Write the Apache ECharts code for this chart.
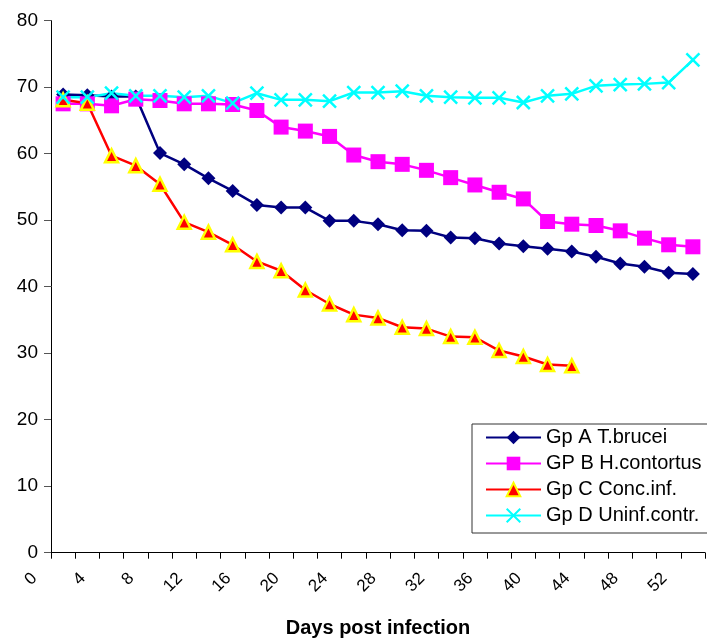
<!DOCTYPE html>
<html>
<head>
<meta charset="utf-8">
<script src="https://cdn.jsdelivr.net/npm/echarts@6/dist/echarts.min.js"></script>
<style>
  html, body { margin: 0; padding: 0; background: #fff; }
</style>
</head>
<body>
<div id="main" style="width: 707px;height:641px;"></div>
<script type="text/javascript">
    // days post infection (every 2 days)
    var days = ['0', '2', '4', '6', '8', '10', '12', '14', '16', '18', '20', '22', '24', '26',
        '28', '30', '32', '34', '36', '38', '40', '42', '44', '46', '48', '50', '52'];

    var gpA = [68.9, 68.8, 68.6, 68.6, 60.1, 58.4, 56.3, 54.4, 52.3, 51.9, 51.9, 49.9, 49.9, 49.4,
        48.5, 48.4, 47.4, 47.3, 46.5, 46.1, 45.7, 45.3, 44.5, 43.5, 43.0, 42.1, 41.9];
    var gpB = [67.5, 67.5, 67.2, 68.2, 68.0, 67.5, 67.5, 67.4, 66.5, 64.0, 63.4, 62.6, 59.8, 58.8,
        58.4, 57.5, 56.4, 55.3, 54.2, 53.2, 49.8, 49.4, 49.2, 48.4, 47.3, 46.3, 46.0];
    var gpC = [68.1, 67.6, 59.7, 58.2, 55.4, 49.7, 48.2, 46.3, 43.8, 42.4, 39.5, 37.4, 35.8, 35.3,
        33.9, 33.7, 32.5, 32.4, 30.4, 29.5, 28.3, 28.1, null, null, null, null, null];
    var gpD = [68.5, 68.5, 69.1, 68.7, 68.7, 68.5, 68.7, 67.6, 69.1, 68.1, 68.1, 67.9, 69.2, 69.2,
        69.4, 68.7, 68.5, 68.4, 68.4, 67.7, 68.7, 69.0, 70.2, 70.4, 70.5, 70.7, 74.1];

    var seriesNames = ['Gp A T.brucei', 'GP B H.contortus', 'Gp C Conc.inf.', 'Gp D Uninf.contr.'];

    var font = 'Liberation Sans, Arial, sans-serif';
    var myChart = echarts.init(document.getElementById('main'));

    var option = {
        animation: false,
        backgroundColor: '#fff',
        grid: {
            left: 51,
            right: 2,
            top: 20.7,
            bottom: 88.3,
            outerBoundsMode: 'none'
        },
        legend: {
            orient: 'vertical',
            left: 472,
            top: 424,
            padding: [3.5, 60, 7.5, 13],
            itemWidth: 55,
            itemHeight: 17,
            itemGap: 6,
            borderColor: '#333',
            borderWidth: 1,
            backgroundColor: '#fff',
            textStyle: {
                fontFamily: font,
                fontSize: 20,
                lineHeight: 20,
                color: '#000'
            },
            data: seriesNames
        },
        xAxis: {
            type: 'category',
            data: days,
            boundaryGap: true,
            name: 'Days post infection',
            nameLocation: 'middle',
            nameGap: 66,
            nameTextStyle: {
                fontFamily: font,
                fontSize: 20,
                fontWeight: 'bold',
                color: '#000'
            },
            axisLine: {lineStyle: {color: '#000', width: 1}},
            axisTick: {show: true, interval: 0, length: 6, lineStyle: {color: '#000'}},
            axisLabel: {
                interval: 1,
                rotate: 45,
                margin: 6.5,
                verticalAlign: 'bottom',
                padding: [0, 32, 0, 0],
                fontFamily: font,
                fontSize: 17,
                color: '#000'
            },
            splitLine: {show: false}
        },
        yAxis: {
            type: 'value',
            min: 0,
            max: 80,
            interval: 10,
            axisLine: {show: true, lineStyle: {color: '#000', width: 1}},
            axisTick: {show: true, length: 7, lineStyle: {color: '#555'}},
            axisLabel: {
                margin: 13,
                fontFamily: font,
                fontSize: 19,
                color: '#000'
            },
            splitLine: {show: false}
        },
        series: [
            {
                name: seriesNames[0],
                type: 'line',
                data: gpA,
                symbol: 'diamond',
                symbolSize: 14,
                lineStyle: {color: '#000080', width: 2.5},
                itemStyle: {color: '#000080'}
            },
            {
                name: seriesNames[1],
                type: 'line',
                data: gpB,
                symbol: 'rect',
                symbolSize: 15,
                lineStyle: {color: '#ff00ff', width: 2.5},
                itemStyle: {color: '#ff00ff'}
            },
            {
                name: seriesNames[2],
                type: 'line',
                data: gpC,
                symbol: 'triangle',
                symbolSize: 13,
                lineStyle: {color: '#ff0000', width: 2.5},
                itemStyle: {color: '#ff0000', borderColor: '#ffff00', borderWidth: 2.5}
            },
            {
                name: seriesNames[3],
                type: 'line',
                data: gpD,
                symbol: 'path://M0,0L10,10M10,0L0,10',
                symbolSize: 13,
                lineStyle: {color: '#00ffff', width: 2.5},
                itemStyle: {color: '#00ffff', borderColor: '#00ffff', borderWidth: 2.5}
            }
        ]
    };

    myChart.setOption(option);
</script>
</body>
</html>
